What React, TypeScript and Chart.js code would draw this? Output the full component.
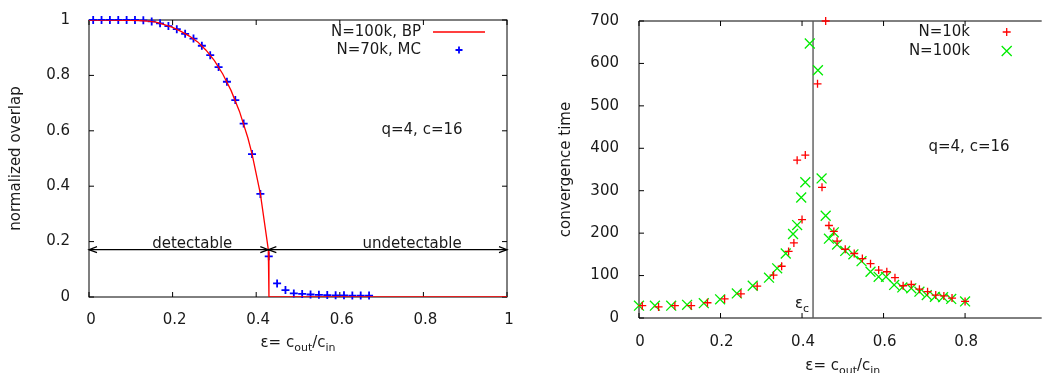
import React, { useEffect, useRef } from "react";
import { Chart, registerables } from "chart.js";

Chart.register(...registerables);

const FONT = "'DejaVu Sans', 'Liberation Sans', sans-serif";
const TEXT = "#1a1a1a";

// ---------- left panel data ----------
const overlapAxisTicks = [0, 0.2, 0.4, 0.6, 0.8, 1];
const epsAxisTicksLeft = [0, 0.2, 0.4, 0.6, 0.8, 1];
const bpEps = [0, 0.05, 0.1, 0.12, 0.14, 0.16, 0.18, 0.2, 0.22, 0.24, 0.26, 0.28, 0.3, 0.32, 0.34, 0.36, 0.38, 0.39, 0.41, 0.429, 0.4305, 0.6, 0.8, 1];
const bpOverlap = [1, 1, 0.999, 0.998, 0.996, 0.992, 0.983, 0.973, 0.959, 0.942, 0.921, 0.891, 0.853, 0.805, 0.745, 0.67, 0.575, 0.517, 0.372, 0.171, 0, 0, 0, 0];
const mcEps = [0.01, 0.03, 0.05, 0.07, 0.09, 0.11, 0.13, 0.15, 0.17, 0.19, 0.21, 0.23, 0.25, 0.27, 0.29, 0.31, 0.33, 0.35, 0.37, 0.39, 0.41, 0.43, 0.45, 0.47, 0.49, 0.51, 0.53, 0.55, 0.57, 0.59, 0.61, 0.63, 0.65, 0.67];
const mcOverlap = [1, 1, 1, 1, 1, 1, 0.999, 0.995, 0.988, 0.978, 0.967, 0.95, 0.933, 0.907, 0.873, 0.83, 0.777, 0.711, 0.626, 0.516, 0.372, 0.147, 0.049, 0.025, 0.013, 0.011, 0.009, 0.008, 0.007, 0.006, 0.006, 0.005, 0.005, 0.005];
const arrowLevel = 0.171;
const arrowSplit = 0.429;

// ---------- right panel data ----------
const timeAxisTicks = [0, 100, 200, 300, 400, 500, 600, 700];
const epsAxisTicksRight = [0, 0.2, 0.4, 0.6, 0.8];
const n10kEps = [0.008, 0.048, 0.088, 0.128, 0.168, 0.21, 0.25, 0.29, 0.33, 0.35, 0.367, 0.38, 0.388, 0.4, 0.408, 0.438, 0.449, 0.458, 0.466, 0.478, 0.486, 0.506, 0.528, 0.548, 0.568, 0.588, 0.608, 0.628, 0.648, 0.668, 0.688, 0.708, 0.728, 0.748, 0.768, 0.8];
const n10kTime = [29, 26, 29, 29, 36, 45, 57, 75, 101, 122, 157, 177, 372, 232, 384, 552, 308, 700, 218, 204, 181, 162, 152, 140, 128, 113, 109, 95, 76, 79, 68, 62, 54, 52, 47, 39];
const n100kEps = [0, 0.039, 0.079, 0.118, 0.159, 0.199, 0.24, 0.279, 0.319, 0.339, 0.36, 0.378, 0.388, 0.398, 0.408, 0.419, 0.439, 0.448, 0.458, 0.466, 0.478, 0.486, 0.506, 0.526, 0.546, 0.568, 0.588, 0.606, 0.626, 0.646, 0.668, 0.688, 0.706, 0.726, 0.746, 0.766, 0.8];
const n100kTime = [29, 29, 29, 31, 35, 44, 58, 76, 95, 117, 152, 198, 219, 284, 320, 647, 584, 329, 241, 187, 202, 173, 158, 150, 134, 109, 97, 97, 78, 72, 70, 62, 54, 50, 49, 45, 39];
const epsCritical = 0.427;

const RED = "rgb(255,0,0)";
const BLUE = "rgb(0,0,255)";
const GREEN = "rgb(0,235,0)";

function seg(ctx: CanvasRenderingContext2D, x1: number, y1: number, x2: number, y2: number) {
  ctx.beginPath();
  ctx.moveTo(x1, y1);
  ctx.lineTo(x2, y2);
  ctx.stroke();
}

function arrowHead(ctx: CanvasRenderingContext2D, x: number, y: number, dir: number) {
  ctx.beginPath();
  ctx.moveTo(x - dir * 8, y - 3);
  ctx.lineTo(x, y);
  ctx.lineTo(x - dir * 8, y + 3);
  ctx.stroke();
}

function epsTitle(ctx: CanvasRenderingContext2D, cx: number, baseline: number) {
  const main = `15px ${FONT}`;
  const sub = `11px ${FONT}`;
  const parts: [string, string, number][] = [
    ["ε= c", main, 0],
    ["out", sub, 4],
    ["/c", main, 0],
    ["in", sub, 4],
  ];
  let total = 0;
  const widths = parts.map(([t, f]) => {
    ctx.font = f;
    const w = ctx.measureText(t).width;
    total += w;
    return w;
  });
  let x = cx - total / 2;
  ctx.textAlign = "left";
  ctx.textBaseline = "alphabetic";
  ctx.fillStyle = TEXT;
  parts.forEach(([t, f, dy], i) => {
    ctx.font = f;
    ctx.fillText(t, x, baseline + dy);
    x += widths[i];
  });
}

function rotatedTitle(ctx: CanvasRenderingContext2D, text: string, cx: number, cy: number) {
  ctx.save();
  ctx.translate(cx, cy);
  ctx.rotate(-Math.PI / 2);
  ctx.font = `15px ${FONT}`;
  ctx.fillStyle = TEXT;
  ctx.textAlign = "center";
  ctx.textBaseline = "middle";
  ctx.fillText(text, 0, 0);
  ctx.restore();
}

function crossMark(ctx: CanvasRenderingContext2D, x: number, y: number, r: number, rot: boolean) {
  ctx.beginPath();
  if (rot) {
    ctx.moveTo(x - r, y - r);
    ctx.lineTo(x + r, y + r);
    ctx.moveTo(x - r, y + r);
    ctx.lineTo(x + r, y - r);
  } else {
    ctx.moveTo(x - r, y);
    ctx.lineTo(x + r, y);
    ctx.moveTo(x, y - r);
    ctx.lineTo(x, y + r);
  }
  ctx.stroke();
}

const leftDecor = {
  id: "leftDecor",
  beforeDatasetsDraw(chart: any) {
    const { ctx, chartArea: a, scales } = chart;
    const x = scales.x;
    const y = scales.y;
    ctx.save();
    ctx.strokeStyle = "#000";
    ctx.lineWidth = 1;
    ctx.strokeRect(a.left, a.top, a.right - a.left, a.bottom - a.top);
    epsAxisTicksLeft.forEach((v) => {
      const px = x.getPixelForValue(v);
      seg(ctx, px, a.bottom, px, a.bottom - 5);
      seg(ctx, px, a.top, px, a.top + 5);
    });
    overlapAxisTicks.forEach((v) => {
      const py = y.getPixelForValue(v);
      seg(ctx, a.left, py, a.left + 5, py);
      seg(ctx, a.right, py, a.right - 5, py);
    });
    ctx.restore();
  },
  afterDatasetsDraw(chart: any) {
    const { ctx, chartArea: a, scales } = chart;
    const x = scales.x;
    const y = scales.y;
    ctx.save();
    // arrows
    const ay = y.getPixelForValue(arrowLevel);
    const x0 = x.getPixelForValue(0);
    const xs = x.getPixelForValue(arrowSplit);
    const x1 = x.getPixelForValue(1);
    ctx.strokeStyle = "#000";
    ctx.lineWidth = 1.2;
    seg(ctx, x0, ay, xs, ay);
    seg(ctx, xs, ay, x1, ay);
    arrowHead(ctx, x0, ay, -1);
    arrowHead(ctx, xs, ay, 1);
    arrowHead(ctx, xs, ay, -1);
    arrowHead(ctx, x1, ay, 1);
    ctx.font = `15px ${FONT}`;
    ctx.fillStyle = TEXT;
    ctx.textAlign = "center";
    ctx.textBaseline = "alphabetic";
    ctx.fillText("detectable", x.getPixelForValue(0.247), ay - 2);
    ctx.fillText("undetectable", x.getPixelForValue(0.773), ay - 2);
    // annotation
    ctx.textBaseline = "middle";
    ctx.fillText("q=4, c=16", 422, 130);
    // legend
    ctx.textAlign = "right";
    ctx.fillText("N=100k, BP", 421, 32);
    ctx.fillText("N=70k, MC", 421, 50);
    ctx.strokeStyle = RED;
    ctx.lineWidth = 1.3;
    seg(ctx, 433, 32, 485, 32);
    ctx.strokeStyle = BLUE;
    ctx.lineWidth = 1.8;
    crossMark(ctx, 459, 50, 3.5, false);
    // titles
    epsTitle(ctx, (a.left + a.right) / 2, 347);
    rotatedTitle(ctx, "normalized overlap", 16.5, (a.top + a.bottom) / 2);
    ctx.restore();
  },
};

const rightDecor = {
  id: "rightDecor",
  beforeDatasetsDraw(chart: any) {
    const { ctx, chartArea: a, scales } = chart;
    const x = scales.x;
    const y = scales.y;
    ctx.save();
    ctx.strokeStyle = "#000";
    ctx.lineWidth = 1;
    seg(ctx, a.left, a.top, a.right, a.top);
    seg(ctx, a.left, a.bottom, a.right, a.bottom);
    seg(ctx, a.left, a.top, a.left, a.bottom);
    epsAxisTicksRight.forEach((v) => {
      const px = x.getPixelForValue(v);
      seg(ctx, px, a.bottom, px, a.bottom - 5);
      seg(ctx, px, a.top, px, a.top + 5);
    });
    timeAxisTicks.forEach((v) => {
      const py = y.getPixelForValue(v);
      seg(ctx, a.left, py, a.left + 5, py);
    });
    // critical line
    const cx = x.getPixelForValue(epsCritical);
    ctx.strokeStyle = "rgb(90,90,90)";
    ctx.lineWidth = 1.4;
    seg(ctx, cx, a.top, cx, a.bottom);
    ctx.restore();
  },
  afterDatasetsDraw(chart: any) {
    const { ctx, chartArea: a, scales } = chart;
    const x = scales.x;
    ctx.save();
    ctx.font = `15px ${FONT}`;
    ctx.fillStyle = TEXT;
    ctx.textBaseline = "middle";
    ctx.textAlign = "center";
    ctx.fillText("q=4, c=16", 444, 147);
    ctx.textAlign = "right";
    ctx.fillText("N=10k", 445, 32);
    ctx.fillText("N=100k", 445, 51);
    ctx.strokeStyle = RED;
    ctx.lineWidth = 1.3;
    crossMark(ctx, 481.7, 32, 4, false);
    ctx.strokeStyle = GREEN;
    crossMark(ctx, 481.7, 51, 5, true);
    // eps_c label
    const cx = x.getPixelForValue(epsCritical);
    ctx.textBaseline = "alphabetic";
    ctx.textAlign = "right";
    ctx.font = `15px ${FONT}`;
    ctx.fillText("ε", cx - 10, 308);
    ctx.textAlign = "left";
    ctx.font = `11px ${FONT}`;
    ctx.fillText("c", cx - 10, 312);
    // titles
    epsTitle(ctx, x.getPixelForValue(0.5), 370);
    rotatedTitle(ctx, "convergence time", 41.5, (a.top + a.bottom) / 2);
    ctx.restore();
  },
};

const tickFont = { family: FONT, size: 15 };

function LeftChart() {
  const ref = useRef<HTMLCanvasElement>(null);
  useEffect(() => {
    if (!ref.current) return;
    const chart = new Chart(ref.current, {
      type: "scatter",
      data: {
        datasets: [
          {
            label: "N=100k, BP",
            data: bpEps.map((v, i) => ({ x: v, y: bpOverlap[i] })),
            showLine: true,
            borderColor: RED,
            borderWidth: 1.3,
            pointRadius: 0,
            tension: 0,
          } as any,
          {
            label: "N=70k, MC",
            data: mcEps.map((v, i) => ({ x: v, y: mcOverlap[i] })),
            showLine: false,
            pointStyle: "cross",
            pointRadius: 4,
            pointBorderWidth: 1.8,
            pointBorderColor: BLUE,
            borderColor: BLUE,
            backgroundColor: BLUE,
            clip: false,
          } as any,
        ],
      },
      options: {
        responsive: false,
        animation: false,
        devicePixelRatio: 1,
        events: [],
        layout: { padding: { left: 0, right: 18, top: 18, bottom: 0 } },
        plugins: { legend: { display: false }, tooltip: { enabled: false } },
        scales: {
          x: {
            type: "linear",
            min: 0,
            max: 1,
            grid: { display: false },
            border: { display: false },
            afterBuildTicks: (s: any) => {
              s.ticks = epsAxisTicksLeft.map((v) => ({ value: v }));
            },
            afterFit: (s: any) => {
              s.height = 76;
            },
            ticks: { padding: 6, labelOffset: 2, color: TEXT, font: tickFont, callback: (v: any) => String(v) },
          },
          y: {
            type: "linear",
            min: 0,
            max: 1,
            grid: { display: false },
            border: { display: false },
            afterBuildTicks: (s: any) => {
              s.ticks = overlapAxisTicks.map((v) => ({ value: v }));
            },
            afterFit: (s: any) => {
              s.width = 89;
            },
            ticks: { padding: 11, color: TEXT, font: tickFont, callback: (v: any) => String(v) },
          },
        },
      } as any,
      plugins: [leftDecor],
    });
    return () => chart.destroy();
  }, []);
  return (
    <canvas
      ref={ref}
      width={525}
      height={373}
      style={{ position: "absolute", left: 0, top: 0, width: 525, height: 373 }}
    />
  );
}

function RightChart() {
  const ref = useRef<HTMLCanvasElement>(null);
  useEffect(() => {
    if (!ref.current) return;
    const chart = new Chart(ref.current, {
      type: "scatter",
      data: {
        datasets: [
          {
            label: "N=10k",
            data: n10kEps.map((v, i) => ({ x: v, y: n10kTime[i] })),
            pointStyle: "cross",
            pointRadius: 4,
            pointBorderWidth: 1.3,
            pointBorderColor: RED,
            borderColor: RED,
            backgroundColor: RED,
            clip: false,
          } as any,
          {
            label: "N=100k",
            data: n100kEps.map((v, i) => ({ x: v, y: n100kTime[i] })),
            pointStyle: "crossRot",
            pointRadius: 7,
            pointBorderWidth: 1.3,
            pointBorderColor: GREEN,
            borderColor: GREEN,
            backgroundColor: GREEN,
            clip: false,
          } as any,
        ],
      },
      options: {
        responsive: false,
        animation: false,
        devicePixelRatio: 1,
        events: [],
        layout: { padding: { left: 0, right: 0, top: 18, bottom: 0 } },
        plugins: { legend: { display: false }, tooltip: { enabled: false } },
        scales: {
          x: {
            type: "linear",
            min: 0,
            max: 0.988,
            grid: { display: false },
            border: { display: false },
            afterBuildTicks: (s: any) => {
              s.ticks = epsAxisTicksRight.map((v) => ({ value: v }));
            },
            afterFit: (s: any) => {
              s.height = 55;
            },
            ticks: { padding: 7, labelOffset: 1, color: TEXT, font: tickFont, callback: (v: any) => String(v) },
          },
          y: {
            type: "linear",
            min: 0,
            max: 700,
            grid: { display: false },
            border: { display: false },
            afterBuildTicks: (s: any) => {
              s.ticks = timeAxisTicks.map((v) => ({ value: v }));
            },
            afterFit: (s: any) => {
              s.width = 114;
            },
            ticks: { padding: 12, color: TEXT, font: tickFont, callback: (v: any) => String(v) },
          },
        },
      } as any,
      plugins: [rightDecor],
    });
    return () => chart.destroy();
  }, []);
  return (
    <canvas
      ref={ref}
      width={525}
      height={373}
      style={{ position: "absolute", left: 525, top: 0, width: 525, height: 373 }}
    />
  );
}

export default function App() {
  return (
    <div
      style={{
        position: "fixed",
        left: 0,
        top: 0,
        width: 1050,
        height: 373,
        background: "#fff",
        overflow: "hidden",
      }}
    >
      <LeftChart />
      <RightChart />
    </div>
  );
}
